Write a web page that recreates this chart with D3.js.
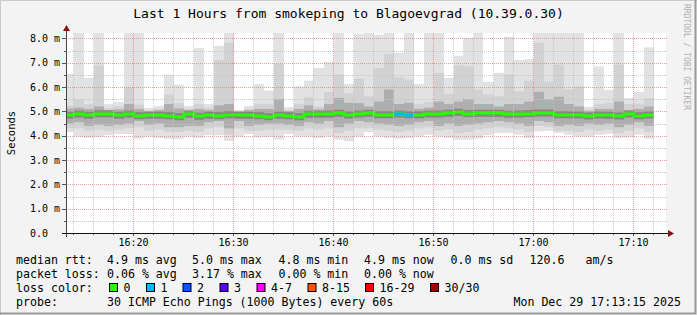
<!DOCTYPE html>
<html><head><meta charset="utf-8">
<script src="https://cdn.jsdelivr.net/npm/d3@7"></script>
<style>
body{margin:0;background:#f3f3f3}
svg{display:block}
text{font-family:"DejaVu Sans Mono",monospace;fill:#000}
</style>
</head><body>
<svg id="c" width="697" height="315"></svg>
<script>
// ---- data (ms), one entry per 1-minute step starting 16:13 ----
const firstMinute = "16:13";
const maxPing = [6.54,8.6,6.37,8.6,5.30,5.38,8.6,8.6,5.14,5.22, 6.51,6.10,5.22,7.60,5.30,7.69,8.6,5.06,5.22,6.12,
                 5.85,8.6,5.17,6.03,6.26,6.78,7.03,8.6,6.12,8.18, 8.6,8.15,8.6,7.40,8.6,6.12,8.6,8.6,6.37,7.28,
                 8.02,8.6,6.21,6.58,8.07,7.11,7.14,8.6,8.6,8.6, 8.6,8.6,5.19,6.85,5.88,8.6,5.55,5.80,7.63];
const upper2 = [5.25,5.48,5.3,6.88,5.15,5.2,5.99,5.28,5.05,5.1, 5.69,5.34,5.1,5.3,5.15,7.11,7.82,5.0,5.1,5.3,
                5.3,6.95,5.05,5.3,5.58,5.2,5.8,6.51,5.75,6.34, 5.62,6.78,7.36,6.4,6.3,5.3,5.38,6.58,5.71,6.89,
                6.85,5.9,5.69,5.62,6.51,5.82,6.26,7.82,6.23,6.92, 5.9,6.03,5.08,5.3,5.35,6.92,5.3,5.3,5.55];
const upper1 = [5.12,5.15,5.1,5.2,5.05,5.08,5.3,5.1,5.0,5.05, 5.3,5.12,5.05,5.1,5.05,5.25,5.3,4.98,5.05,5.1,
                5.1,5.5,5.0,5.1,5.25,5.08,5.3,5.55,5.35,5.34, 5.2,5.4,5.9,5.3,5.35,5.1,5.15,5.4,5.3,5.4,
                5.5,5.3,5.3,5.2,5.3,5.3,5.4,5.8,5.5,5.6, 5.3,5.2,5.0,5.1,5.1,5.4,5.05,5.1,5.2];
const median = [4.84,4.89,4.84,4.90,4.90,4.84,4.89,4.82,4.84,4.84, 4.82,4.78,4.88,4.80,4.84,4.82,4.86,4.84,4.84,4.82,
                4.78,4.84,4.82,4.78,4.88,4.88,4.89,4.92,4.85,4.89, 4.92,4.86,4.86,4.89,4.86,4.86,4.89,4.89,4.92,4.96,
                4.91,4.92,4.92,4.92,4.88,4.89,4.91,4.93,4.93,4.86, 4.86,4.85,4.81,4.85,4.84,4.81,4.89,4.82,4.85];
const lower1 = [4.5,4.55,4.4,4.45,4.4,4.45,4.5,4.6,4.45,4.5, 4.35,4.35,4.4,4.4,4.55,4.6,4.3,4.6,4.4,4.45,
                4.5,4.5,4.45,4.4,4.55,4.5,4.6,4.35,4.5,4.6, 4.55,4.5,4.45,4.4,4.45,4.55,4.6,4.4,4.5,4.4,
                4.45,4.5,4.55,4.6,4.55,4.5,4.4,4.6,4.55,4.4, 4.45,4.4,4.5,4.45,4.5,4.35,4.45,4.55,4.4];
const lower2 = [4.3,4.3,4.2,4.25,4.2,4.25,4.3,4.35,4.2,4.25, 4.15,4.15,4.2,4.15,4.3,4.35,4.05,4.3,4.2,4.2,
                4.25,4.25,4.25,4.2,4.3,4.25,4.3,4.1,4.2,4.3, 4.3,4.25,4.2,4.15,4.2,4.3,4.35,4.2,4.25,4.1,
                4.15,4.25,4.3,4.35,4.3,4.25,4.15,4.4,4.35,4.2, 4.2,4.15,4.25,4.2,4.25,4.1,4.2,4.3,4.15];
const minPing = [4.15,3.96,3.91,3.95,4.02,4.07,4.07,3.88,3.97,3.91, 3.87,3.87,3.97,3.91,4.02,4.02,3.78,3.97,4.07,3.93,
                 3.95,3.84,4.07,3.97,3.97,3.91,3.97,3.84,3.77,3.97, 4.15,3.97,3.91,3.88,3.91,3.97,4.04,3.97,3.91,3.84,
                 3.84,3.88,4.02,4.11,4.11,4.04,3.91,4.18,4.20,4.11, 4.04,3.97,3.97,4.04,4.07,3.91,3.93,4.04,3.88];
const lossCount = [0,0,0,0,0,0,0,0,0,0, 0,0,0,0,0,0,0,0,0,0, 0,0,0,0,0,0,0,0,0,0,
                   0,0,0,1,1,0,0,0,0,0, 0,0,0,0,0,0,0,0,0,0, 0,0,0,0,0,0,0,0,0];
const yTicks = [0,1,2,3,4,5,6,7,8];
const yTickLabels = ["0.0","1.0 m","2.0 m","3.0 m","4.0 m","5.0 m","6.0 m","7.0 m","8.0 m"];
const xTickLabels = ["16:20","16:30","16:40","16:50","17:00","17:10"];
const lossLegend = ["0","1","2","3","4-7","8-15","16-29","30/30"];
const lossColors = ["#26ff00","#00b8ff","#0059ff","#5e00ff","#ff00ff","#ff5500","#ff0000","#a00000"];
const rttStats = ["4.9 ms avg","5.0 ms max","4.8 ms min","4.9 ms now","0.0 ms sd","120.6","am/s"];
const lossStats = ["0.06 % avg","3.17 % max","0.00 % min","0.00 % now"];

// ---- drawing ----
const svg = d3.select("#c");
const W = 697, H = 315;
const X0 = 66, X1 = 666, Y0 = 233, Y1 = 33;
const day = [2025, 11, 29];
const t0 = new Date(...day, 16, 13, 15), t1 = new Date(...day, 17, 13, 15);
const x = d3.scaleTime().domain([t0, t1]).range([X0, X1]);
const y = d3.scaleLinear().domain([0, 8.22]).range([Y0, Y1]);
const parseHM = d3.timeParse("%H:%M");
const fm = parseHM(firstMinute);
const barStart = maxPing.map((_, i) => new Date(...day, fm.getHours(), fm.getMinutes() + i));
const bx = i => Math.round(Math.max(x(barStart[i]), X0));
const bw = i => Math.round(x(d3.timeMinute.offset(barStart[i], 1))) - bx(i);

// background + frame
svg.append("rect").attr("width", W).attr("height", H).attr("fill", "#f3f3f3");
svg.append("path").attr("d", `M0.5,${H}V0.5H${W}`).attr("fill","none").attr("stroke","#cbcbcb").attr("stroke-width",1);
svg.append("path").attr("d", `M${W-1.5},0V${H-1.5}H0`).attr("fill","none").attr("stroke","#999999").attr("stroke-width",2);

svg.append("rect").attr("x", X0).attr("y", Y1).attr("width", X1 - X0).attr("height", Y0 - Y1).attr("fill", "#fff");

svg.append("clipPath").attr("id", "plot").append("rect")
  .attr("x", X0).attr("y", Y1).attr("width", X1 - X0).attr("height", Y0 - Y1);
const g = svg.append("g").attr("clip-path", "url(#plot)");

const bands = [
  {lo: minPing, hi: maxPing, c: "#e2e2e2"},
  {lo: lower2, hi: upper2, c: "#d2d2d2"},
  {lo: lower1, hi: upper1, c: "#aeaeae"},
];
bands.forEach(b => {
  g.selectAll(null).data(maxPing).enter().append("rect")
    .attr("x", (d, i) => bx(i)).attr("width", (d, i) => bw(i))
    .attr("y", (d, i) => y(b.hi[i]))
    .attr("height", (d, i) => y(b.lo[i]) - y(b.hi[i]))
    .attr("fill", b.c);
});
// dark core around median
g.selectAll(null).data(median).enter().append("rect")
  .attr("x", (d, i) => bx(i)).attr("width", (d, i) => bw(i))
  .attr("y", d => y(d) - 3.5).attr("height", 7)
  .attr("fill", "#858585");

// grid
const gg = svg.append("g");
const minorT = d3.timeMinute.every(2).range(t0, t1);
const isMajorT = t => t.getMinutes() % 10 === 0;
const minorV = d3.range(0.5, 8.22, 0.5);
minorT.forEach(t => {
  const px = Math.floor(x(t)) + 0.5, major = isMajorT(t);
  gg.append("line").attr("x1", px).attr("x2", px).attr("y1", Y1).attr("y2", Y0)
    .attr("stroke", major ? "#e08080" : "#c4c4c4")
    .attr("stroke-opacity", major ? 0.75 : 0.9)
    .attr("stroke-dasharray", "1,1");
  gg.append("line").attr("x1", px).attr("x2", px).attr("y1", Y0).attr("y2", Y0 + (major ? 3 : 2))
    .attr("stroke", "#555");
});
minorV.forEach(v => {
  const py = Math.round(y(v)) + 0.5;
  const major = Number.isInteger(v);
  gg.append("line").attr("x1", X0).attr("x2", X1 + 2).attr("y1", py).attr("y2", py)
    .attr("stroke", major ? "#e08080" : "#c4c4c4")
    .attr("stroke-opacity", major ? 0.75 : 0.9)
    .attr("stroke-dasharray", "1,1");
  gg.append("line").attr("x1", X0 - (major ? 4 : 2)).attr("x2", X0).attr("y1", py).attr("y2", py)
    .attr("stroke", "#555");
});

// median line (loss coloured)
const colorOf = n => n === 0 ? lossColors[0] : n === 1 ? lossColors[1] : n === 2 ? lossColors[2] : n === 3 ? lossColors[3]
  : n <= 7 ? lossColors[4] : n <= 15 ? lossColors[5] : n <= 29 ? lossColors[6] : lossColors[7];
const line = d3.line().x(d => d[0]).y(d => d[1]).curve(d3.curveStepAfter);
const pts = median.map((m, i) => [bx(i), Math.round(y(m))]);
pts.push([Math.round(x(d3.timeMinute.offset(barStart[median.length - 1], 1))), Math.round(y(median[median.length - 1]))]);
g.append("path").attr("d", line(pts)).attr("fill", "none").attr("stroke", colorOf(0)).attr("stroke-width", 3);
median.forEach((m, i) => {
  if (lossCount[i] > 0) {
    g.append("line").attr("x1", bx(i)).attr("x2", bx(i) + bw(i)).attr("y1", Math.round(y(m))).attr("y2", Math.round(y(m)))
      .attr("stroke", colorOf(lossCount[i])).attr("stroke-width", 3);
  }
});

// axes
svg.append("line").attr("x1", X0 - 4).attr("x2", X1 + 3).attr("y1", Y0 + 0.5).attr("y2", Y0 + 0.5).attr("stroke", "#111");
svg.append("line").attr("x1", X0 + 0.5).attr("x2", X0 + 0.5).attr("y1", Y0 + 4).attr("y2", Y1 - 3).attr("stroke", "#444");
svg.append("path").attr("d", `M${X1 + 2},${Y0 - 3}L${X1 + 8},${Y0 + 0.5}L${X1 + 2},${Y0 + 4}Z`).attr("fill", "#8b1010");
svg.append("path").attr("d", `M${X0 - 3},${Y1 - 2}L${X0 + 0.5},${Y1 - 8}L${X0 + 4},${Y1 - 2}Z`).attr("fill", "#8b1010");

// tick labels
yTicks.forEach((v, i) => {
  svg.append("text").attr("x", 30).attr("y", y(v) + 3.5).attr("font-size", "10px").text(yTickLabels[i]);
});
xTickLabels.forEach(l => {
  const t = parseHM(l);
  svg.append("text").attr("x", x(new Date(...day, t.getHours(), t.getMinutes()))).attr("y", 246)
    .attr("text-anchor", "middle").attr("font-size", "10px").text(l);
});

// titles
svg.append("text").attr("x", W / 2).attr("y", 18).attr("text-anchor", "middle").attr("font-size", "13px")
  .text("Last 1 Hours from smokeping to Blagoevgrad (10.39.0.30)");
svg.append("text").attr("transform", `translate(15,${(Y0 + Y1) / 2}) rotate(-90)`).attr("text-anchor", "middle")
  .attr("font-size", "10.5px").attr("font-family", "DejaVu Sans").text("Seconds");
svg.append("text").attr("transform", "translate(684,4) rotate(90)").attr("font-size", "8px")
  .style("fill", "#b0b0b0").text("RRDTOOL / TOBI OETIKER");

// legend
const fs = "11.6px";
const L = (txt, px, py, anchor) => svg.append("text").attr("x", px).attr("y", py).attr("font-size", fs)
  .attr("text-anchor", anchor || "start").text(txt);
const ly = [264, 278, 292, 306];
L("median rtt:", 16, ly[0]);
[107, 192, 278.5, 364, 450.5, 529.5, 585.5].forEach((px, i) => L(rttStats[i], px, ly[0]));
L("packet loss:", 16, ly[1]);
[107, 192, 278.5, 364].forEach((px, i) => L(lossStats[i], px, ly[1]));
L("loss color:", 16, ly[2]);
const boxX = [109, 146, 182.5, 219.5, 256.5, 307.5, 365, 430];
lossLegend.forEach((l, i) => {
  svg.append("rect").attr("x", boxX[i] + 0.5).attr("y", ly[2] - 8.5).attr("width", 8).attr("height", 8)
    .attr("fill", lossColors[i]).attr("stroke", "#000").attr("stroke-width", 1);
  L(l, boxX[i] + 14.5, ly[2]);
});
L("probe:", 16, ly[3]);
L("30 ICMP Echo Pings (1000 Bytes) every 60s", 107, ly[3]);
L("Mon Dec 29 17:13:15 2025", 681, ly[3], "end");
</script>
</body></html>
